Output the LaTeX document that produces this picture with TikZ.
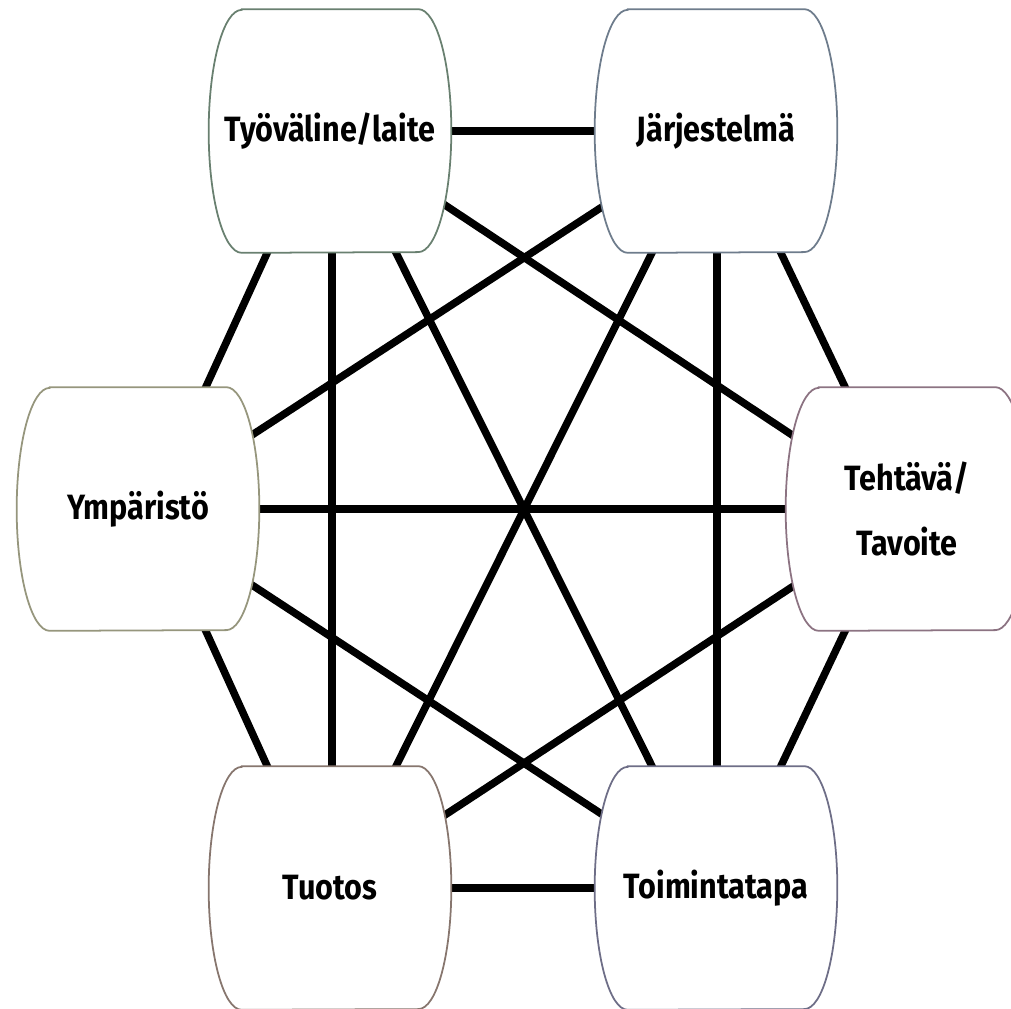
\documentclass[tikz,border=0pt]{standalone}
\usepackage{fontspec}
\newfontfamily\boxfont[FakeStretch=0.87]{Fira Sans}
\usetikzlibrary{calc}
\usetikzlibrary{backgrounds}
\definecolor{tyline}{RGB}{105,128,112}
\definecolor{jaline}{RGB}{110,124,140}
\definecolor{ymline}{RGB}{150,150,125}
\definecolor{teline}{RGB}{140,115,130}
\definecolor{tuline}{RGB}{135,118,110}
\definecolor{toline}{RGB}{110,110,135}

\begin{document}
\begin{tikzpicture}[x=0.02cm,y=0.02cm,
		box/.style={minimum width=4.84cm,minimum height=4.86cm,inner sep=0pt,align=center,font=\boxfont\bfseries\fontsize{20}{37}\selectfont},
		link/.style={line width=0.15cm},
		barrel/.style={line width=1pt,fill=white}]
	\useasboundingbox (0,0) rectangle (1011,1008);
	\node[box] (ty) at (330,877) {Työväline/laite};
	\node[box] (ja) at (716,877) {Järjestelmä};
	\node[box] (ym) at (138,499) {Ympäristö};
	\node[box] (te) at (907,499) {Tehtävä/\\Tavoite};
	\node[box] (tu) at (330,120) {Tuotos};
	\node[box] (to) at (716,120) {Toimintatapa};
	\begin{scope}[on background layer]
		\draw[link] ($(ty.east)+(-6,0)$) -- ($(ja.west)+(6,0)$);
		\draw[link] ($(ym.east)+(-6,0)$) -- ($(te.west)+(6,0)$);
		\draw[link] ($(tu.east)+(-6,0)$) -- ($(to.west)+(6,0)$);
		\draw[link] ($(ty.south)+(-60,6)$) -- ($(ym.north)+(65,-6)$);
		\draw[link] ($(ty.south)+(2,6)$) -- ($(tu.north)+(2,-6)$);
		\draw[link] ($(ty.south)+(63,6)$) -- ($(to.north)+(-61,-6)$);
		\draw[link] ($(ja.south)+(-61,6)$) -- ($(tu.north)+(63,-6)$);
		\draw[link] ($(ja.south)+(1,6)$) -- ($(to.north)+(1,-6)$);
		\draw[link] ($(ja.south)+(62,6)$) -- ($(te.north)+(-59,-6)$);
		\draw[link] ($(ym.south)+(65,6)$) -- ($(tu.north)+(-60,-6)$);
		\draw[link] ($(te.south)+(-59,6)$) -- ($(to.north)+(62,-6)$);
		\draw[link] ($(ty.east)+(-14,-69)$) -- ($(te.west)+(17,67)$);
		\draw[link] ($(ja.west)+(18,-69)$) -- ($(ym.east)+(-15,69)$);
		\draw[link] ($(ym.east)+(-15,-71)$) -- ($(to.west)+(16,68)$);
		\draw[link] ($(tu.east)+(-14,68)$) -- ($(te.west)+(17,-71)$);
		\foreach \n/\c in {ty/tyline,ja/jaline,ym/ymline,te/teline,tu/tuline,to/toline}
			\draw[barrel,draw=\c] ($(\n.north west)+(33,0)$) -- ($(\n.north east)+(-33,0)$)
				arc[start angle=90,end angle=-90,x radius=0.66cm,y radius=2.43cm]
				-- ($(\n.south west)+(33,0)$)
				arc[start angle=270,end angle=90,x radius=0.66cm,y radius=2.43cm] -- cycle;
	\end{scope}
\end{tikzpicture}
\end{document}
